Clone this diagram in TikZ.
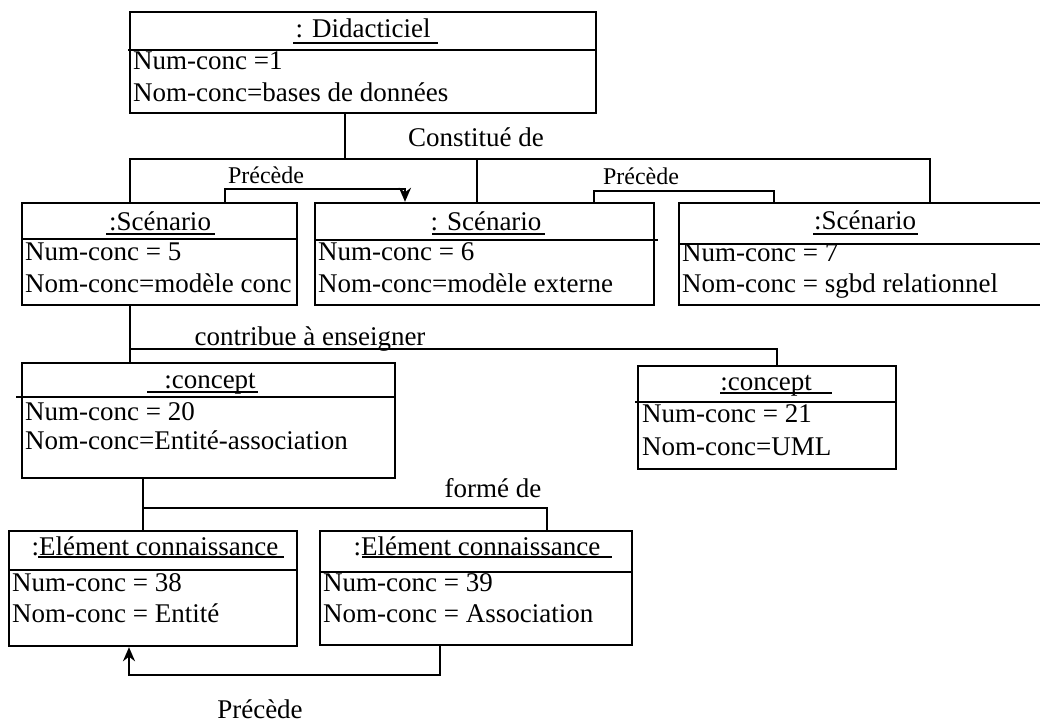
\documentclass[tikz,border=0pt]{standalone}
\usepackage{fontspec}
\setmainfont{Liberation Serif}
\usetikzlibrary{fit,arrows.meta}

\begin{document}
\begin{tikzpicture}[x=1pt,y=-1pt]
        \tikzstyle{every path}=[line width=2.4pt]
        \tikzstyle{every node}=[font=\fontsize{27}{32}\selectfont]
        \tikzstyle{obj}=[draw,inner sep=0pt]
        \tikzstyle{ttl}=[anchor=base,inner sep=0pt]
        \tikzstyle{attr}=[anchor=base west,inner sep=0pt]
        \tikzstyle{rel}=[anchor=base,inner sep=0pt]
        \tikzstyle{small}=[font=\fontsize{24}{28}\selectfont]
        \tikzstyle{arr}=[-{Stealth[length=14pt,width=12pt]}]

        \useasboundingbox (0,0) rectangle (1040,722);

        % the objects
        \foreach \n/\xa/\ya/\xb/\yb in {did/130/12/596/113, scA/22/203/297/305,
            scB/315/203/654/305, scC/679/203/1050/305, coA/22/363/395/478,
            coB/638/366/896/469, elA/9/531/297/646, elB/320/531/632/645}
            \node [obj,fit={(\xa,\ya) (\xb,\yb)}] (\n) {};

        %title lines
        \foreach \xa/\xb/\y in {128/596/50, 22/297/239, 315/658/240, 679/1050/244,
            16/395/397, 635/896/402, 9/297/570, 320/632/572}
            \draw (\xa,\y) -- (\xb,\y);

        \node [ttl] (didT) at (363,38) {: Didacticiel};
        \node [ttl] (scAT) at (160,230) {:Scénario};
        \node [ttl] (scBT) at (486,230) {: Scénario};
        \node [ttl] (scCT) at (865,229) {:Scénario};
        \node [ttl] (coAT) at (210,388) {:concept};
        \node [ttl] (coBT) at (766,390) {:concept};
        \node [ttl] (elAT) at (155,555) {:Elément connaissance};
        \node [ttl] (elBT) at (477,555) {:Elément connaissance};

        %underline the titles
        \foreach \xa/\xb/\y in {293/438/43, 106/215/234, 432/545/234, 813/918/234,
            147/258/392, 720/832/393, 38/284/557, 362/612/557}
            \draw [line width=2pt] (\xa,\y) -- (\xb,\y);

        %attributes
        \foreach \n/\x/\y/\t in {didN/132/70/{Num-conc =1}, didM/132/102/{Nom-conc=bases de données},
            scAN/24/260/{Num-conc = 5}, scAM/24/292/{Nom-conc=modèle conc},
            scBN/317/260/{Num-conc = 6}, scBM/317/292/{Nom-conc=modèle externe},
            scCN/681/261/{Num-conc = 7}, scCM/681/292/{Nom-conc = sgbd relationnel},
            coAN/24/420/{Num-conc = 20}, coAM/24/449/{Nom-conc=Entité-association},
            coBN/641/422/{Num-conc = 21}, coBM/641/455/{Nom-conc=UML},
            elAN/11/591/{Num-conc = 38}, elAM/11/622/{Nom-conc = Entité},
            elBN/322/591/{Num-conc = 39}, elBM/322/622/{Nom-conc = Association}}
            \node [attr] (\n) at (\x,\y) {\t};

        % links
        \coordinate (cj) at (345,159);
        \coordinate (busL) at (130,159);
        \coordinate (busM) at (477,159);
        \coordinate (busR) at (930,159);
        \draw (cj |- did.south) -- (cj);
        \draw (busL |- scA.north) -- (busL) -- (busR) -- (busR |- scC.north);
        \draw (busM) -- (busM |- scB.north);
        \node [rel] (constit) at (476,147) {Constitué de};

        \coordinate (p1a) at (225,189);
        \coordinate (p1b) at (405,189);
        \draw [arr] (p1a |- scA.north) -- (p1a) -- (p1b) -- (p1b |- scB.north);
        \node [rel,small] (prec1) at (266,183) {Précède};

        \coordinate (p2a) at (594,191);
        \coordinate (p2b) at (774,191);
        \draw (p2a |- scB.north) -- (p2a) -- (p2b) -- (p2b |- scC.north);
        \node [rel,small] (prec2) at (641,184) {Précède};

        \coordinate (k1) at (130,349);
        \coordinate (k2) at (777,349);
        \draw (k1 |- scA.south) -- (k1 |- coA.north);
        \draw (k1) -- (k2) -- (k2 |- coB.north);
        \node [rel] (contrib) at (310,345) {contribue à enseigner};

        \coordinate (f1) at (143,508);
        \coordinate (f2) at (547,508);
        \draw (f1 |- coA.south) -- (f1 |- elA.north);
        \draw (f1) -- (f2) -- (f2 |- elB.north);
        \node [rel] (forme) at (493,497) {formé de};

        \coordinate (q1) at (440,675);
        \coordinate (q2) at (129,675);
        \draw [arr] (q1 |- elB.south) -- (q1) -- (q2) -- (q2 |- elA.south);
        \node [rel] (prec3) at (260,718) {Précède};
\end{tikzpicture}
\end{document}
